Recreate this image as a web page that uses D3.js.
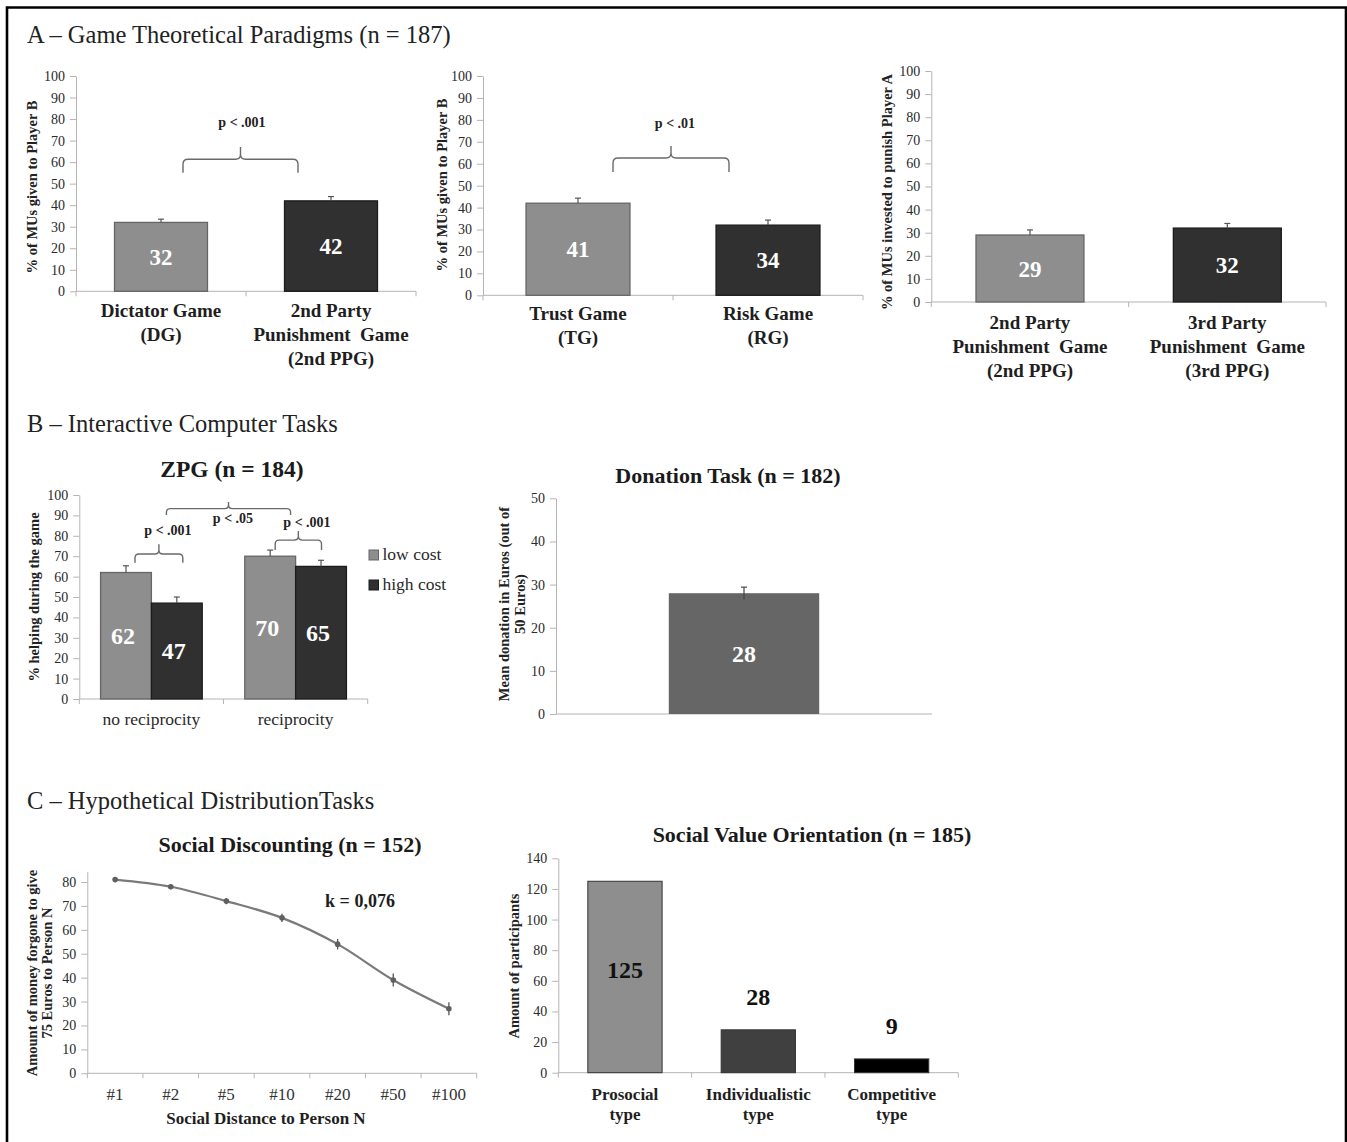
<!DOCTYPE html>
<html>
<head>
<meta charset="utf-8">
<script src="https://cdn.jsdelivr.net/npm/d3@7"></script>
<style>
body { margin: 0; background: #fff; }
text { font-family: 'Liberation Serif', 'Times New Roman', serif; white-space: pre; }
</style>
</head>
<body>
<script>
// ---- data ----
// A - game theoretical paradigms
var a1Cats = ["DG", "2nd PPG"];
var a1Names = [["Dictator Game", "(DG)"], ["2nd Party", "Punishment  Game", "(2nd PPG)"]];
var a1Values = [32, 42];
var a1Err = [1.5, 2];
var a1Labels = ["32", "42"];

var a2Cats = ["TG", "RG"];
var a2Names = [["Trust Game", "(TG)"], ["Risk Game", "(RG)"]];
var a2Values = [42, 32];
var a2Err = [2.3, 2.3];
var a2Labels = ["41", "34"];

var a3Cats = ["2nd PPG", "3rd PPG"];
var a3Names = [["2nd Party", "Punishment  Game", "(2nd PPG)"], ["3rd Party", "Punishment  Game", "(3rd PPG)"]];
var a3Values = [29, 32];
var a3Err = [2.2, 2];
var a3Labels = ["29", "32"];

var pctTicks = [0, 10, 20, 30, 40, 50, 60, 70, 80, 90, 100];

// B - interactive computer tasks
var zpgGroups = ["no reciprocity", "reciprocity"];
var zpgSeries = ["low cost", "high cost"];
var zpgLow = [62, 70];
var zpgHigh = [47, 65];
var zpgLowErr = [3.3, 3];
var zpgHighErr = [3, 3];

var donationCats = ["Donation"];
var donationValues = [28];
var donationErr = [1.4];
var donationTicks = [0, 10, 20, 30, 40, 50];

// C - hypothetical distribution tasks
var sdCats = ["#1", "#2", "#5", "#10", "#20", "#50", "#100"];
var sdValues = [81, 78, 72, 65, 54, 39, 27];
var sdErr = [1, 1, 1.3, 1.7, 2.2, 2.7, 2.7];
var sdTicks = [0, 10, 20, 30, 40, 50, 60, 70, 80];

var svoCats = ["Prosocial", "Individualistic", "Competitive"];
var svoValues = [125, 28, 9];
var svoTicks = [0, 20, 40, 60, 80, 100, 120, 140];

var light = "#8e8e8e", lightStroke = "#666666";
var dark = "#303030", darkStroke = "#1c1c1c";
var axisCol = "#b4b4b4";

var svg = d3.select("body").append("svg")
    .attr("width", 1347)
    .attr("height", 1142);

// frame
svg.append("path")
    .attr("d", "M7,1142 V7.5 H1346 V1142")
    .attr("fill", "none")
    .attr("stroke", "#000")
    .attr("stroke-width", 2.6);

var heading = (txt, x, y) => {
    svg.append("text").attr("x", x).attr("y", y)
        .attr("font-size", 24.5).attr("fill", "#222").text(txt);
};
heading("A \u2013 Game Theoretical Paradigms (n = 187)", 27, 43);
heading("B \u2013 Interactive Computer Tasks", 27, 432);
heading("C \u2013 Hypothetical DistributionTasks", 27, 809);

var title = (txt, x, y, size) => {
    svg.append("text").attr("x", x).attr("y", y).attr("text-anchor", "middle")
        .attr("font-size", size).attr("font-weight", "bold").attr("fill", "#1a1a1a").text(txt);
};

var yAxis = (g, y, ticks, fs) => {
    g.call(d3.axisLeft(y).tickValues(ticks).tickSize(6).tickSizeOuter(0).tickPadding(5));
    g.select(".domain").attr("stroke", axisCol);
    g.selectAll(".tick line").attr("stroke", axisCol);
    g.selectAll(".tick text").attr("fill", "#2a2a2a")
        .style("font-family", "'Liberation Serif', serif").style("font-size", fs + "px");
};

var xAxis = (g, x, y0) => {
    var r = x.range();
    var bounds = x.domain().map(d => x(d)).concat([r[1]]);
    g.append("line").attr("x1", r[0]).attr("x2", r[1]).attr("y1", y0).attr("y2", y0)
        .attr("stroke", axisCol);
    g.selectAll(".xt").data(bounds).enter().append("line")
        .attr("x1", d => d).attr("x2", d => d).attr("y1", y0).attr("y2", y0 + 5)
        .attr("stroke", axisCol);
};

var yLabel = (lines, cx, cy, lh) => {
    var t = svg.append("text")
        .attr("transform", `translate(${cx},${cy}) rotate(-90)`)
        .attr("text-anchor", "middle").attr("font-size", 14.5).attr("font-weight", "bold")
        .attr("fill", "#222");
    lines.forEach((l, i) => {
        t.append("tspan").attr("x", 0).attr("dy", i === 0 ? 0 : lh).text(l);
    });
};

var multiLine = (g, lines, x, y, lh, size, weight) => {
    var t = g.append("text").attr("x", x).attr("y", y).attr("text-anchor", "middle")
        .attr("font-size", size).attr("font-weight", weight).attr("fill", "#1e1e1e");
    lines.forEach((l, i) => {
        t.append("tspan").attr("x", x).attr("dy", i === 0 ? 0 : lh).text(l);
    });
};

var errUp = (g, cx, yv, ye) => {
    g.append("line").attr("x1", cx).attr("x2", cx).attr("y1", yv).attr("y2", ye)
        .attr("stroke", "#555").attr("stroke-width", 1.2);
    g.append("line").attr("x1", cx - 3).attr("x2", cx + 3).attr("y1", ye).attr("y2", ye)
        .attr("stroke", "#555").attr("stroke-width", 1.2);
};

var bracket = (g, xa, xb, yl, ye, yt, r) => {
    var xm = (xa + xb) / 2;
    var d = `M${xa},${ye} L${xa},${yl + r} Q${xa},${yl} ${xa + r},${yl} L${xm - r},${yl} Q${xm},${yl} ${xm},${yl - r} L${xm},${yt}` +
        ` M${xm},${yl - r} Q${xm},${yl} ${xm + r},${yl} L${xb - r},${yl} Q${xb},${yl} ${xb},${yl + r} L${xb},${ye}`;
    g.append("path").attr("d", d).attr("fill", "none").attr("stroke", "#6a6a6a").attr("stroke-width", 1.4);
};

var pText = (g, txt, x, y) => {
    g.append("text").attr("x", x).attr("y", y).attr("text-anchor", "middle")
        .attr("font-size", 14).attr("font-weight", "bold").attr("fill", "#222").text(txt);
};

// simple two-bar panel used three times in row A
var barPanel = (p) => {
    var g = svg.append("g");
    var x = d3.scaleBand().domain(p.cats).range([p.x0, p.x1]);
    var y = d3.scaleLinear().domain([0, 100]).range([p.y0, p.yTop]);
    var bw = x.bandwidth() * 0.547;
    var cx = d => x(d) + x.bandwidth() / 2;

    yAxis(g.append("g").attr("transform", `translate(${p.x0},0)`), y, pctTicks, 14);
    xAxis(g, x, p.y0);

    g.selectAll(".bar").data(p.values).enter().append("rect")
        .attr("x", (d, i) => cx(p.cats[i]) - bw / 2)
        .attr("y", d => y(d))
        .attr("width", bw)
        .attr("height", d => p.y0 - y(d))
        .attr("fill", (d, i) => i === 0 ? light : dark)
        .attr("stroke", (d, i) => i === 0 ? lightStroke : darkStroke)
        .attr("stroke-width", 1.3);

    p.values.forEach((v, i) => errUp(g, cx(p.cats[i]), y(v), y(v + p.err[i])));

    g.selectAll(".lbl").data(p.labels).enter().append("text")
        .attr("x", (d, i) => cx(p.cats[i]))
        .attr("y", (d, i) => y(p.values[i] / 2) + 8)
        .attr("text-anchor", "middle").attr("font-size", 23).attr("font-weight", "bold")
        .attr("fill", "#fff").text(d => d);

    p.names.forEach((lines, i) => multiLine(g, lines, cx(p.cats[i]), p.nameY, 24, 19, "bold"));
    return { g: g, x: x, y: y, cx: cx };
};

// ---- A1 ----
var a1 = barPanel({ x0: 76, x1: 416, y0: 291.3, yTop: 76, cats: a1Cats, names: a1Names,
    values: a1Values, err: a1Err, labels: a1Labels, nameY: 317 });
yLabel(["% of MUs given to Player B"], 37, 187, 0);
bracket(a1.g, a1.cx("DG") + 22, a1.cx("2nd PPG") - 33, a1.y(61.3), a1.y(55.1), a1.y(67), 5);
pText(a1.g, "p < .001", 242, a1.y(76.5));

// ---- A2 ----
var a2 = barPanel({ x0: 483, x1: 863, y0: 295.3, yTop: 76, cats: a2Cats, names: a2Names,
    values: a2Values, err: a2Err, labels: a2Labels, nameY: 320 });
yLabel(["% of MUs given to Player B"], 447, 185, 0);
bracket(a2.g, a2.cx("TG") + 35, a2.cx("RG") - 39, a2.y(62.6), a2.y(56.2), a2.y(68.1), 5);
pText(a2.g, "p < .01", 675, a2.y(76.5));

// ---- A3 ----
var a3 = barPanel({ x0: 931.3, x1: 1326, y0: 302, yTop: 71, cats: a3Cats, names: a3Names,
    values: a3Values, err: a3Err, labels: a3Labels, nameY: 329 });
yLabel(["% of MUs invested to punish Player A"], 892, 192, 0);

// ---- B1: ZPG ----
(function () {
    var g = svg.append("g");
    var x0 = 79.3, x1 = 367.7, y0 = 699, yTop = 495;
    var x = d3.scaleBand().domain(zpgGroups).range([x0, x1]);
    var gw = x.bandwidth() * 0.705;
    var xs = d3.scaleBand().domain(zpgSeries).range([0, gw]);
    var y = d3.scaleLinear().domain([0, 100]).range([y0, yTop]);
    var cx = (grp, s) => x(grp) + (x.bandwidth() - gw) / 2 + xs(s) + xs.bandwidth() / 2;

    title("ZPG (n = 184)", 232, 477, 23.5);
    yAxis(g.append("g").attr("transform", `translate(${x0},0)`), y, pctTicks, 14);
    xAxis(g, x, y0);

    var rows = [];
    zpgGroups.forEach((grp, i) => {
        rows.push({ grp: grp, s: "low cost", v: zpgLow[i], e: zpgLowErr[i] });
        rows.push({ grp: grp, s: "high cost", v: zpgHigh[i], e: zpgHighErr[i] });
    });

    g.selectAll(".bar").data(rows).enter().append("rect")
        .attr("x", d => cx(d.grp, d.s) - xs.bandwidth() / 2)
        .attr("y", d => y(d.v))
        .attr("width", xs.bandwidth())
        .attr("height", d => y0 - y(d.v))
        .attr("fill", d => d.s === "low cost" ? light : dark)
        .attr("stroke", d => d.s === "low cost" ? lightStroke : darkStroke)
        .attr("stroke-width", 1.3);
    rows.forEach(d => errUp(g, cx(d.grp, d.s), y(d.v), y(d.v + d.e)));

    g.selectAll(".lbl").data(rows).enter().append("text")
        .attr("x", d => cx(d.grp, d.s) - 3)
        .attr("y", d => y(d.v / 2) + 8)
        .attr("text-anchor", "middle").attr("font-size", 24).attr("font-weight", "bold")
        .attr("fill", "#fff").text(d => d.v);

    g.selectAll(".cat").data(zpgGroups).enter().append("text")
        .attr("x", d => x(d) + x.bandwidth() / 2).attr("y", 725)
        .attr("text-anchor", "middle").attr("font-size", 17.5).attr("fill", "#2a2a2a").text(d => d);

    // significance brackets
    bracket(g, cx("no reciprocity", "low cost") + 9, cx("no reciprocity", "high cost") + 6,
        y(71.1), y(66.8), y(75.8), 4);
    pText(g, "p < .001", 168, y(80.5));
    bracket(g, cx("reciprocity", "low cost") + 5, cx("reciprocity", "high cost") + 0.5,
        y(77.9), y(73), y(82.4), 4);
    pText(g, "p < .001", 307, y(84.5));
    bracket(g, x("no reciprocity") + x.bandwidth() / 2 + 15, x("reciprocity") + x.bandwidth() / 2 - 5,
        y(93.3), y(90.2), y(96.6), 4);
    pText(g, "p < .05", 233, y(86.3));

    // legend
    var lg = g.selectAll(".leg").data(zpgSeries).enter().append("g")
        .attr("transform", (d, i) => `translate(369,${550 + i * 30})`);
    lg.append("rect").attr("width", 9.5).attr("height", 10)
        .attr("fill", (d, i) => i === 0 ? light : dark)
        .attr("stroke", (d, i) => i === 0 ? lightStroke : darkStroke);
    lg.append("text").attr("x", 13.5).attr("y", 10).attr("font-size", 17.5).attr("fill", "#2a2a2a").text(d => d);

    yLabel(["% helping during the game"], 39, 597, 0);
})();

// ---- B2: Donation ----
(function () {
    var g = svg.append("g");
    var x0 = 556, x1 = 932, y0 = 714, yTop = 498.3;
    var x = d3.scaleBand().domain(donationCats).range([x0, x1]);
    var y = d3.scaleLinear().domain([0, 50]).range([y0, yTop]);
    var bw = x.bandwidth() * 0.4;
    var cx = d => x(d) + x.bandwidth() / 2;

    title("Donation Task (n = 182)", 728, 483, 22);
    yAxis(g.append("g").attr("transform", `translate(${x0},0)`), y, donationTicks, 14);
    g.append("line").attr("x1", x0).attr("x2", x1).attr("y1", y0).attr("y2", y0).attr("stroke", axisCol);

    g.selectAll(".bar").data(donationValues).enter().append("rect")
        .attr("x", (d, i) => cx(donationCats[i]) - bw / 2)
        .attr("y", d => y(d))
        .attr("width", bw)
        .attr("height", d => y0 - y(d))
        .attr("fill", "#666666");
    donationValues.forEach((v, i) => {
        var c = cx(donationCats[i]);
        g.append("line").attr("x1", c).attr("x2", c)
            .attr("y1", y(v - donationErr[i])).attr("y2", y(v + donationErr[i]))
            .attr("stroke", "#444").attr("stroke-width", 1.2);
        g.append("line").attr("x1", c - 3).attr("x2", c + 3)
            .attr("y1", y(v + donationErr[i])).attr("y2", y(v + donationErr[i]))
            .attr("stroke", "#444").attr("stroke-width", 1.2);
    });
    g.selectAll(".lbl").data(donationValues).enter().append("text")
        .attr("x", (d, i) => cx(donationCats[i]))
        .attr("y", d => y(d / 2) + 8)
        .attr("text-anchor", "middle").attr("font-size", 24).attr("font-weight", "bold")
        .attr("fill", "#fff").text(d => d);

    yLabel(["Mean donation in Euros (out of", "50 Euros)"], 509, 604, 16);
})();

// ---- C1: Social discounting ----
(function () {
    var g = svg.append("g");
    var x0 = 87.3, x1 = 476.7, y0 = 1073.3;
    var x = d3.scaleBand().domain(sdCats).range([x0, x1]);
    var y = d3.scaleLinear().domain([0, 84.3]).range([y0, 871.7]);
    var cx = d => x(d) + x.bandwidth() / 2;

    title("Social Discounting (n = 152)", 290, 852, 22);
    yAxis(g.append("g").attr("transform", `translate(${x0},0)`), y, sdTicks, 14);
    xAxis(g, x, y0);

    var line = d3.line().x((d, i) => cx(sdCats[i])).y(d => y(d)).curve(d3.curveMonotoneX);
    g.append("path").datum(sdValues).attr("d", line)
        .attr("fill", "none").attr("stroke", "#7a7a7a").attr("stroke-width", 2.2);

    sdValues.forEach((v, i) => {
        var c = cx(sdCats[i]);
        g.append("line").attr("x1", c).attr("x2", c)
            .attr("y1", y(v - sdErr[i])).attr("y2", y(v + sdErr[i]))
            .attr("stroke", "#555").attr("stroke-width", 1.3);
    });
    g.selectAll(".pt").data(sdValues).enter().append("circle")
        .attr("cx", (d, i) => cx(sdCats[i])).attr("cy", d => y(d)).attr("r", 2.8)
        .attr("fill", "#606060");

    g.selectAll(".cat").data(sdCats).enter().append("text")
        .attr("x", d => cx(d)).attr("y", 1100)
        .attr("text-anchor", "middle").attr("font-size", 17).attr("fill", "#333").text(d => d);

    g.append("text").attr("x", 266).attr("y", 1124).attr("text-anchor", "middle")
        .attr("font-size", 17).attr("font-weight", "bold").attr("fill", "#1e1e1e")
        .text("Social Distance to Person N");
    g.append("text").attr("x", 360).attr("y", 907).attr("text-anchor", "middle")
        .attr("font-size", 18).attr("font-weight", "bold").attr("fill", "#1e1e1e")
        .text("k = 0,076");

    yLabel(["Amount of money forgone to give", "75 Euros to Person N"], 36.7, 973, 15);
})();

// ---- C2: Social value orientation ----
(function () {
    var g = svg.append("g");
    var x0 = 558.3, x1 = 958.3, y0 = 1072.7;
    var x = d3.scaleBand().domain(svoCats).range([x0, x1]);
    var y = d3.scaleLinear().domain([0, 140]).range([y0, 858.3]);
    var bw = x.bandwidth() * 0.557;
    var cx = d => x(d) + x.bandwidth() / 2;
    var fills = ["#8e8e8e", "#404040", "#000000"];

    title("Social Value Orientation (n = 185)", 812, 842, 22);
    yAxis(g.append("g").attr("transform", `translate(${x0},0)`), y, svoTicks, 14);
    xAxis(g, x, y0);

    g.selectAll(".bar").data(svoValues).enter().append("rect")
        .attr("x", (d, i) => cx(svoCats[i]) - bw / 2)
        .attr("y", d => y(d))
        .attr("width", bw)
        .attr("height", d => y0 - y(d))
        .attr("fill", (d, i) => fills[i])
        .attr("stroke", "#333").attr("stroke-width", 1);

    g.selectAll(".lbl").data(svoValues).enter().append("text")
        .attr("x", (d, i) => cx(svoCats[i]))
        .attr("y", d => d > 50 ? y(d / 2) + 1 : y(d) - 25)
        .attr("text-anchor", "middle").attr("font-size", 24).attr("font-weight", "bold")
        .attr("fill", "#111").text(d => d);

    svoCats.forEach(c => multiLine(g, [c, "type"], cx(c), 1100, 20, 17, "bold"));

    yLabel(["Amount of participants"], 519, 966, 0);
})();
</script>
</body>
</html>
